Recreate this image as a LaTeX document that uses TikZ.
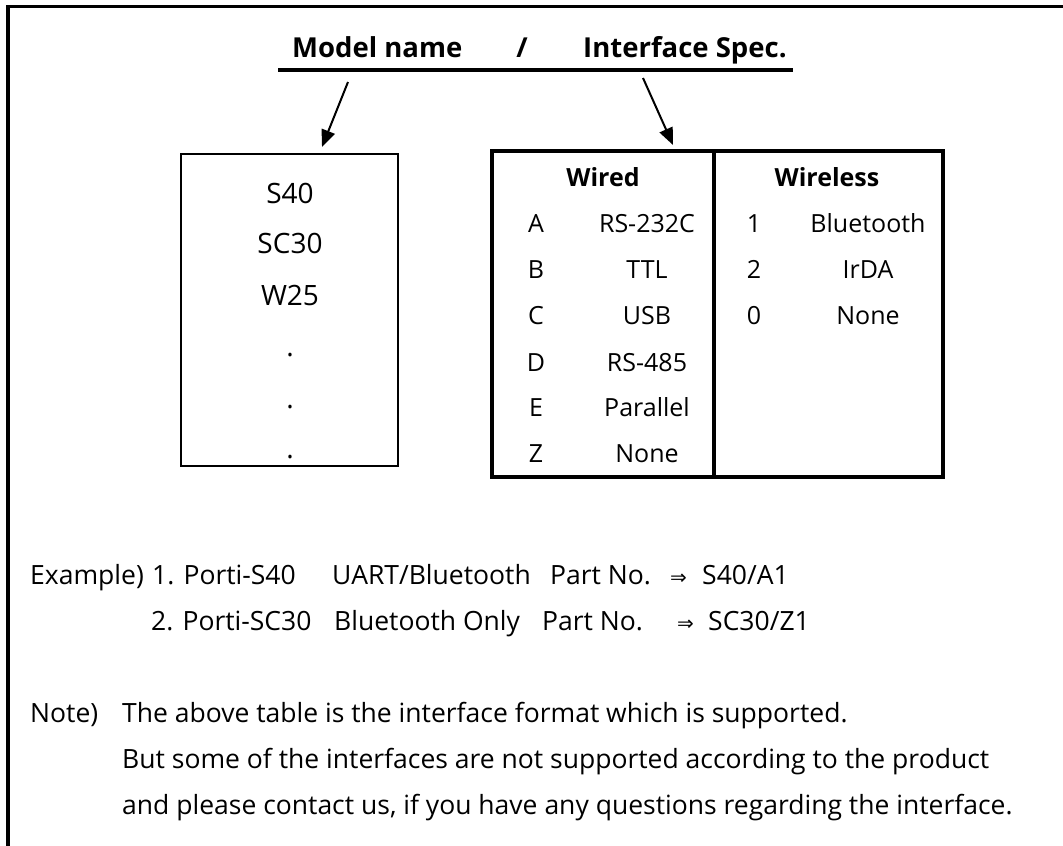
\documentclass[tikz,border=0pt]{standalone}
\usepackage{fontspec}
\setmainfont{Open Sans}
\newfontfamily\arrowfont{DejaVu Sans}
\usetikzlibrary{arrows.meta}
\tikzset{
  title/.style={font=\bfseries\fontsize{27.5}{33}\selectfont, inner sep=0pt, anchor=base west},
  body/.style={font=\fontsize{26.5}{32}\selectfont, inner sep=0pt, anchor=base west},
  cell/.style={font=\fontsize{25}{30}\selectfont, inner sep=0pt, anchor=base},
  head/.style={font=\bfseries\fontsize{25}{30}\selectfont, inner sep=0pt, anchor=base},
  model/.style={font=\fontsize{28}{34}\selectfont, inner sep=0pt, anchor=base},
  pointer/.style={line width=2pt, -{Triangle[length=17pt,width=14pt]}}
}
\newcommand{\imply}{{\arrowfont\fontsize{20}{24}\selectfont ⇒}}

\begin{document}
\begin{tikzpicture}[x=1pt, y=-1pt]
\useasboundingbox (0,0) rectangle (1063,846);
\draw [line width=3.5pt] (1063,6.7) -- (7.8,6.7) -- (7.8,846);

% heading
\node [title] (mname) at (292,57) {Model name};
\node [title, anchor=base] (slash) at (522,57) {/};
\node [title] (ispec) at (583,57) {Interface Spec.};
\draw [line width=3.5pt] (278,70) -- (793,70);

\coordinate (mfrom) at (348,82);
\coordinate (mto) at (322,147);
\coordinate (ifrom) at (643,78);
\coordinate (ito) at (673,145);
\draw [pointer] (mfrom) -- (mto);
\draw [pointer] (ifrom) -- (ito);

% model names
\node [draw, line width=2pt, minimum width=217pt, minimum height=312pt] (models) at (289.5,310) {};
\node [model] (s40) at (290,203) {S40};
\node [model] (sc30) at (290,253) {SC30};
\node [model] (w25) at (290,305) {W25};
\node [model] (dot1) at (290,356) {.};
\node [model] (dot2) at (290,408) {.};
\node [model] (dot3) at (290,458) {.};

% interface table
\node [draw, line width=4pt, minimum width=451pt, minimum height=326pt] (spec) at (717.5,314) {};
\draw [line width=4pt] (spec.north -| 714,0) -- (spec.south -| 714,0);

\node [head] (wired) at (603,186) {Wired};
\node [head] (wireless) at (827,186) {Wireless};

\node [cell] (ka) at (536,232) {A};
\node [cell] (va) at (647,232) {RS-232C};
\node [cell] (kb) at (536,278) {B};
\node [cell] (vb) at (647,278) {TTL};
\node [cell] (kc) at (536,324) {C};
\node [cell] (vc) at (647,324) {USB};
\node [cell] (kd) at (536,371) {D};
\node [cell] (vd) at (647,371) {RS-485};
\node [cell] (ke) at (536,416) {E};
\node [cell] (ve) at (647,416) {Parallel};
\node [cell] (kz) at (536,462) {Z};
\node [cell] (vz) at (647,462) {None};

\node [cell] (k1) at (754,232) {1};
\node [cell] (v1) at (868,232) {Bluetooth};
\node [cell] (k2) at (754,278) {2};
\node [cell] (v2) at (868,278) {IrDA};
\node [cell] (k0) at (754,324) {0};
\node [cell] (v0) at (868,324) {None};

% examples
\node [body] (ex) at (30,584) {Example)};
\node [body] (ex1) at (152,584) {1. Porti-S40};
\node [body] (ex1if) at (332,584) {UART/Bluetooth};
\node [body] (ex1pn) at (550,584) {Part No.};
\node [body] (ex1ar) at (670,584) {\imply};
\node [body] (ex1no) at (702,584) {S40/A1};
\node [body] (ex2) at (151,630) {2. Porti-SC30};
\node [body] (ex2if) at (334,630) {Bluetooth Only};
\node [body] (ex2pn) at (542,630) {Part No.};
\node [body] (ex2ar) at (677,630) {\imply};
\node [body] (ex2no) at (708,630) {SC30/Z1};

% note
\node [body] (note) at (30,722) {Note)};
\node [body] (note1) at (122,722) {The above table is the interface format which is supported.};
\node [body] (note2) at (122,768) {But some of the interfaces are not supported according to the product};
\node [body] (note3) at (122,814) {and please contact us, if you have any questions regarding the interface.};

\end{tikzpicture}
\end{document}
